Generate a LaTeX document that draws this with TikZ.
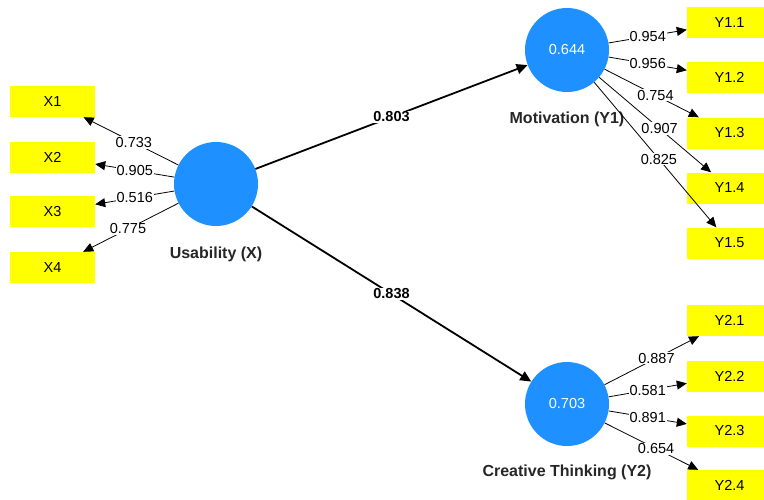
\documentclass[tikz,border=0pt]{standalone}
\usepackage{fontspec}
\setmainfont{Liberation Sans}
\usetikzlibrary{shapes.geometric, arrows.meta, positioning}
\definecolor{latentblue}{HTML}{1E90FF}
\definecolor{itemyellow}{HTML}{FFFF00}
\tikzstyle{latent} = [circle, minimum size=84pt, inner sep=0pt, fill=latentblue, text=white, font=\fontsize{14.5}{16}\selectfont]
\tikzstyle{item} = [rectangle, minimum width=85pt, minimum height=31pt, inner sep=0pt, fill=itemyellow, font=\fontsize{14.5}{16}\selectfont]
\tikzstyle{lvname} = [inner sep=2pt, text=black!85, font=\bfseries\fontsize{16}{18}\selectfont]
\tikzstyle{coef} = [fill=white, inner sep=1pt, font=\fontsize{14.5}{16}\selectfont]
\tikzstyle{pcoef} = [coef, font=\bfseries\fontsize{14.5}{16}\selectfont]
\tikzstyle{loading} = [line width=0.8pt, -{Triangle[length=10pt,width=9pt]}]
\tikzstyle{structural} = [line width=1.8pt, -{Triangle[length=11pt,width=10pt]}]

\begin{document}
\begin{tikzpicture}[x=1pt, y=-1pt]
    \useasboundingbox (0,0) rectangle (764,499);
    % latent variables
    \node (usa) [latent] at (216,184) {};
    \node (mot) [latent] at (567,50) {0.644};
    \node (cre) [latent] at (567,404) {0.703};
    \node (usaname) [lvname, below=19pt of usa] {Usability (X)};
    \node (motname) [lvname, below=18pt of mot] {Motivation (Y1)};
    \node (crename) [lvname, below=16pt of cre] {Creative Thinking (Y2)};
    % indicators
    \node (x1) [item] at (52.5,101.5) {X1};
    \node (x2) [item] at (52.5,157) {X2};
    \node (x3) [item] at (52.5,211.5) {X3};
    \node (x4) [item] at (52.5,267.5) {X4};
    \node (y11) [item] at (729.5,22.5) {Y1.1};
    \node (y12) [item] at (729.5,77.5) {Y1.2};
    \node (y13) [item] at (729.5,133) {Y1.3};
    \node (y14) [item] at (729.5,188) {Y1.4};
    \node (y15) [item] at (729.5,243) {Y1.5};
    \node (y21) [item] at (729.5,320.5) {Y2.1};
    \node (y22) [item] at (729.5,376) {Y2.2};
    \node (y23) [item] at (729.5,431) {Y2.3};
    \node (y24) [item] at (729.5,485.5) {Y2.4};

    \draw [structural] (usa) -- node[pcoef, pos=0.5] {0.803} (mot);
    \draw [structural] (usa) -- node[pcoef, pos=0.5] {0.838} (cre);

    \draw [loading] (usa) -- node[coef, pos=0.47] {0.733} (x1);
    \draw [loading] (usa) -- node[coef, pos=0.5] {0.905} (x2);
    \draw [loading] (usa) -- node[coef, pos=0.5] {0.516} (x3);
    \draw [loading] (usa) -- node[coef, pos=0.53] {0.775} (x4);

    \draw [loading] (mot) -- node[coef, pos=0.5] {0.954} (y11);
    \draw [loading] (mot) -- node[coef, pos=0.5] {0.956} (y12);
    \draw [loading] (mot) -- node[coef, pos=0.54] {0.754} (y13);
    \draw [loading] (mot) -- node[coef, pos=0.54] {0.907} (y14);
    \draw [loading] (mot) -- node[coef, pos=0.53] {0.825} (y15);

    \draw [loading] (cre) -- node[coef, pos=0.55] {0.887} (y21);
    \draw [loading] (cre) -- node[coef, pos=0.5] {0.581} (y22);
    \draw [loading] (cre) -- node[coef, pos=0.5] {0.891} (y23);
    \draw [loading] (cre) -- node[coef, pos=0.55] {0.654} (y24);
\end{tikzpicture}
\end{document}
